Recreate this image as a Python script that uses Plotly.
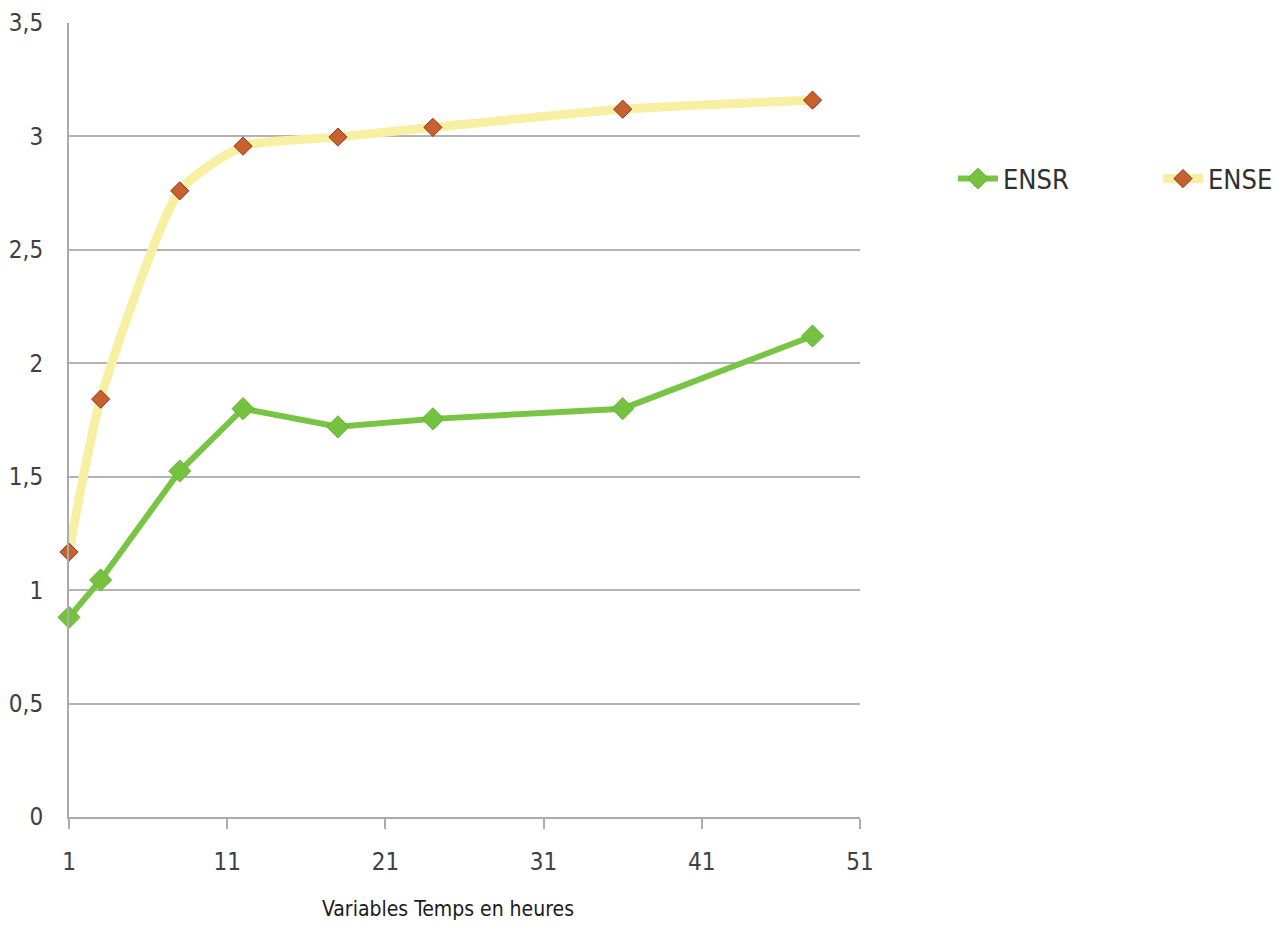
import plotly.graph_objects as go

# Time points (hours) and measured series
hours = [1, 3, 8, 12, 18, 24, 36, 48]
ensr = [0.88, 1.045, 1.525, 1.80, 1.72, 1.755, 1.80, 2.12]
ense = [1.168, 1.842, 2.76, 2.957, 2.997, 3.04, 3.12, 3.16]

x_ticks = [1, 11, 21, 31, 41, 51]
y_ticks = [0, 0.5, 1, 1.5, 2, 2.5, 3, 3.5]
y_tick_text = ["0", "0,5", "1", "1,5", "2", "2,5", "3", "3,5"]
x_title = "Variables Temps en heures"

FONT = "DejaVu Sans Condensed, Liberation Sans Narrow, sans-serif"
AXIS_GREY = "#ABABAB"

W, H = 1285, 930
M_L, M_R, M_T, M_B = 69, 0, 23, 113
PLOT_RIGHT = 860  # right end of the x axis, px
PLOT_BOTTOM = H - M_B
PAPER_W = W - M_L - M_R
PAPER_H = H - M_T - M_B
x_dom_end = (PLOT_RIGHT - M_L) / PAPER_W


def paper_x(px):
    return (px - M_L) / PAPER_W


def paper_y(py):
    return (PLOT_BOTTOM - py) / PAPER_H


fig = go.Figure()

fig.add_trace(go.Scatter(
    x=hours, y=ensr, name="ENSR", mode="lines+markers",
    line=dict(color="#78C545", width=6),
    marker=dict(symbol="diamond", size=17, color="#74C240",
                line=dict(color="#68B338", width=1)),
    cliponaxis=False, legend="legend",
))

fig.add_trace(go.Scatter(
    x=hours, y=ense, name="ENSE", mode="lines+markers",
    line=dict(color="#F7F0A2", width=9, shape="spline", smoothing=0.6),
    marker=dict(symbol="diamond", size=14, color="#C9602F",
                line=dict(color="#8C3B1C", width=1)),
    cliponaxis=False, legend="legend2",
))

legend_style = dict(orientation="h", y=paper_y(179), xanchor="left", yanchor="middle",
                    font=dict(family=FONT, size=27, color="#303030"),
                    itemwidth=40, bgcolor="rgba(0,0,0,0)", borderwidth=0)

fig.update_layout(
    width=W, height=H,
    margin=dict(l=M_L, r=M_R, t=M_T, b=M_B),
    paper_bgcolor="white", plot_bgcolor="white",
    separators=", ",
    font=dict(family=FONT, size=22, color="#404040"),
    showlegend=True,
    legend=dict(x=paper_x(953), **legend_style),
    legend2=dict(x=paper_x(1158), **legend_style),
    xaxis=dict(
        domain=[0, x_dom_end], automargin=False,
        range=[1, 51], tickmode="array", tickvals=x_ticks,
        ticks="outside", ticklen=10, tickcolor=AXIS_GREY, tickwidth=2,
        showline=True, linecolor=AXIS_GREY, linewidth=2,
        showgrid=False, zeroline=False, ticklabelstandoff=12,
        tickfont=dict(family=FONT, size=24, color="#404040"),
    ),
    yaxis=dict(
        automargin=False,
        range=[0, 3.5], tickmode="array", tickvals=y_ticks, ticktext=y_tick_text,
        showline=True, linecolor=AXIS_GREY, linewidth=2,
        showgrid=True, gridcolor="#B3B3B3", gridwidth=2,
        zeroline=False, ticks="", ticklabelstandoff=19,
        tickfont=dict(family=FONT, size=24, color="#404040"),
    ),
    annotations=[dict(
        text=x_title, xref="paper", yref="paper",
        x=paper_x(320), y=paper_y(909), xanchor="left", yanchor="middle",
        showarrow=False, font=dict(family=FONT, size=21, color="#1A1A1A"),
    )],
)

fig.write_html("out.html")
